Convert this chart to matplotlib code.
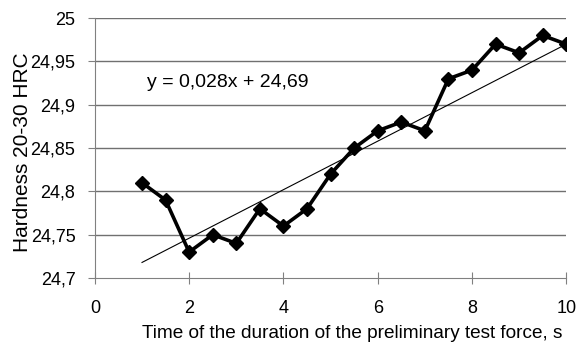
import numpy as np
import matplotlib
matplotlib.use('Agg')
import matplotlib.pyplot as plt
from matplotlib.ticker import FuncFormatter

# %% data

time_s = [1, 1.5, 2, 2.5, 3, 3.5, 4, 4.5, 5, 5.5, 6, 6.5, 7, 7.5, 8, 8.5, 9, 9.5, 10]
hardness = [24.81, 24.79, 24.73, 24.75, 24.74, 24.78, 24.76, 24.78, 24.82, 24.85,
            24.87, 24.88, 24.87, 24.93, 24.94, 24.97, 24.96, 24.98, 24.97]
slope = 0.028
intercept = 24.69
eq_label = 'y = 0,028x + 24,69'

# %% plot

plt.rcParams['font.family'] = ['Liberation Sans', 'DejaVu Sans']

fig = plt.figure(figsize=(5.82, 3.56), dpi=100)
ax = fig.add_axes([0.163, 0.219, 0.810, 0.730])

for yv in np.arange(24.75, 25.001, 0.05):
    ax.axhline(yv, color='#707070', lw=1, zorder=1)

trend_x = np.array([time_s[0], time_s[-1]])
ax.plot(trend_x, slope * trend_x + intercept, color='black', lw=0.8, zorder=2)
ax.plot(time_s, hardness, color='black', lw=2.6, marker='D', ms=7.5, zorder=3)

ax.text(1.1, 24.926, eq_label, fontsize=14, ha='left', va='center')

ax.set_xlim(0, 10)
ax.set_ylim(24.7, 25.0)
ax.set_xticks([0, 2, 4, 6, 8, 10])
ax.set_yticks(np.arange(24.7, 25.001, 0.05))

comma = FuncFormatter(lambda v, p: ('%g' % round(v, 2)).replace('.', ','))
ax.xaxis.set_major_formatter(comma)
ax.yaxis.set_major_formatter(comma)

for s in ['top', 'right']:
    ax.spines[s].set_visible(False)
for s in ['left', 'bottom']:
    ax.spines[s].set_color('#808080')
ax.tick_params(axis='both', colors='#808080', labelcolor='black', labelsize=13, length=5)
ax.tick_params(axis='y', pad=9)
ax.tick_params(axis='x', direction='inout', length=8, pad=12)

ax.set_xlabel('Time of the duration of the preliminary test force, s', fontsize=13.7)
ax.xaxis.set_label_coords(0.546, -0.18)
ax.set_ylabel('Hardness 20-30 HRC', fontsize=15)
ax.yaxis.set_label_coords(-0.134, 0.485)

plt.savefig('out.png', dpi=100)
